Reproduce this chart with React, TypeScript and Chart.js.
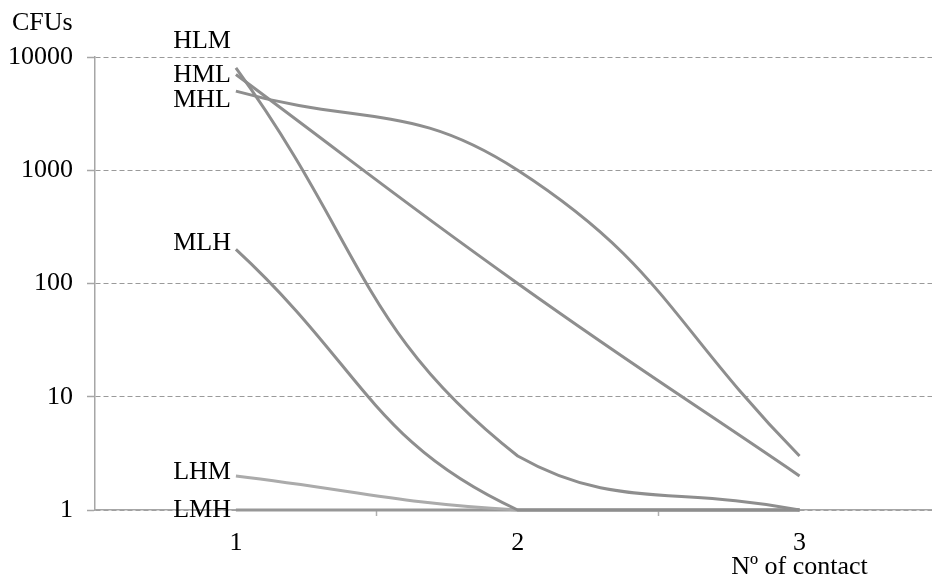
import React, { useEffect, useRef } from "react";
import { Chart, registerables } from "chart.js";

Chart.register(...registerables);

const contacts = [1, 2, 3];
const seriesNames = ["HLM", "HML", "MHL", "MLH", "LHM", "LMH"];
const hlm = [8000, 3, 1];
const hml = [7000, 100, 2];
const mhl = [5000, 1000, 3];
const mlh = [200, 1, 1];
const lhm = [2, 1, 1];
const lmh = [1, 1, 1];
const yTicks = [1, 10, 100, 1000, 10000];
const xLabelTicks = [1, 2, 3];
const xMarkTicks = [1.5, 2.5];

const seriesValues = [hlm, hml, mhl, mlh, lhm, lmh];
const seriesColors = ["#8e8e8e", "#8e8e8e", "#8e8e8e", "#8e8e8e", "#ababab", "#979797"];
const labelOffsets = [-27, 1, 9, -6, -4, 0];

const FONT = "'Liberation Serif', 'Times New Roman', serif";
const FSIZE = 26;

export default function App() {
  const ref = useRef<HTMLCanvasElement | null>(null);

  useEffect(() => {
    const canvas = ref.current;
    if (!canvas) return;

    const textPlugin = {
      id: "textPlugin",
      afterDatasetsDraw(chart: any) {
        const ctx = chart.ctx;
        ctx.save();
        ctx.fillStyle = "#000";
        ctx.font = `${FSIZE}px ${FONT}`;
        ctx.textAlign = "right";
        ctx.textBaseline = "middle";
        chart.data.datasets.forEach((ds: any, i: number) => {
          const meta = chart.getDatasetMeta(i);
          const pt = meta.data[0];
          if (!pt) return;
          ctx.fillText(ds.label, pt.x - 5, pt.y + labelOffsets[i]);
        });
        ctx.textAlign = "left";
        ctx.textBaseline = "alphabetic";
        ctx.fillText("CFUs", 12, 30);
        const xs = chart.scales.x;
        ctx.textAlign = "center";
        ctx.fillText("N\u00ba of contact", xs.getPixelForValue(3), 574);
        ctx.restore();
      },
    };

    const chart = new Chart(canvas, {
      type: "line",
      data: {
        datasets: seriesNames.map((name, i) => ({
          label: name,
          data: contacts.map((c, j) => ({ x: c, y: seriesValues[i][j] })),
          borderColor: seriesColors[i],
          backgroundColor: seriesColors[i],
          borderWidth: 3,
          pointRadius: 0,
          tension: 0.45,
          fill: false,
          clip: 4,
        })),
      },
      options: {
        animation: false,
        responsive: true,
        maintainAspectRatio: false,
        layout: { padding: { top: 57, left: 0, right: 0, bottom: 0 } },
        plugins: {
          legend: { display: false },
          tooltip: { enabled: false },
        },
        scales: {
          x: {
            type: "linear",
            min: 0.5,
            max: 3.47,
            afterBuildTicks: (scale: any) => {
              scale.ticks = [...xLabelTicks, ...xMarkTicks]
                .sort((a, b) => a - b)
                .map((v) => ({ value: v }));
            },
            afterFit: (scale: any) => {
              scale.height = 67;
            },
            ticks: {
              autoSkip: false,
              maxRotation: 0,
              padding: 12,
              color: "#000",
              font: { family: FONT, size: FSIZE },
              callback: (v: any) => (xLabelTicks.includes(Number(v)) ? String(v) : ""),
            },
            grid: {
              drawOnChartArea: false,
              drawTicks: true,
              tickLength: 6,
              tickColor: (ctx: any) =>
                ctx.tick && xMarkTicks.includes(ctx.tick.value) ? "#b0b0b0" : "rgba(0,0,0,0)",
              tickWidth: 1.5,
            },
            border: { display: true, color: "#a6a6a6", width: 1.5 },
          },
          y: {
            type: "logarithmic",
            min: 1,
            max: 10000,
            afterBuildTicks: (scale: any) => {
              scale.ticks = yTicks.map((v) => ({ value: v }));
            },
            afterFit: (scale: any) => {
              scale.width = 95;
            },
            ticks: {
              padding: 14,
              color: "#000",
              font: { family: FONT, size: FSIZE },
              callback: (v: any) => String(v),
            },
            grid: {
              color: "#9a9a9a",
              lineWidth: 1,
              drawTicks: true,
              tickLength: 8,
              tickColor: "#a6a6a6",
              tickWidth: 1.5,
            },
            border: { display: true, color: "#a6a6a6", width: 1.5, dash: [5, 3] },
          },
        },
      },
      plugins: [textPlugin],
    });

    return () => chart.destroy();
  }, []);

  return (
    <div style={{ position: "fixed", left: 0, top: 0, width: 932, height: 577, background: "#fff" }}>
      <canvas ref={ref} />
    </div>
  );
}
